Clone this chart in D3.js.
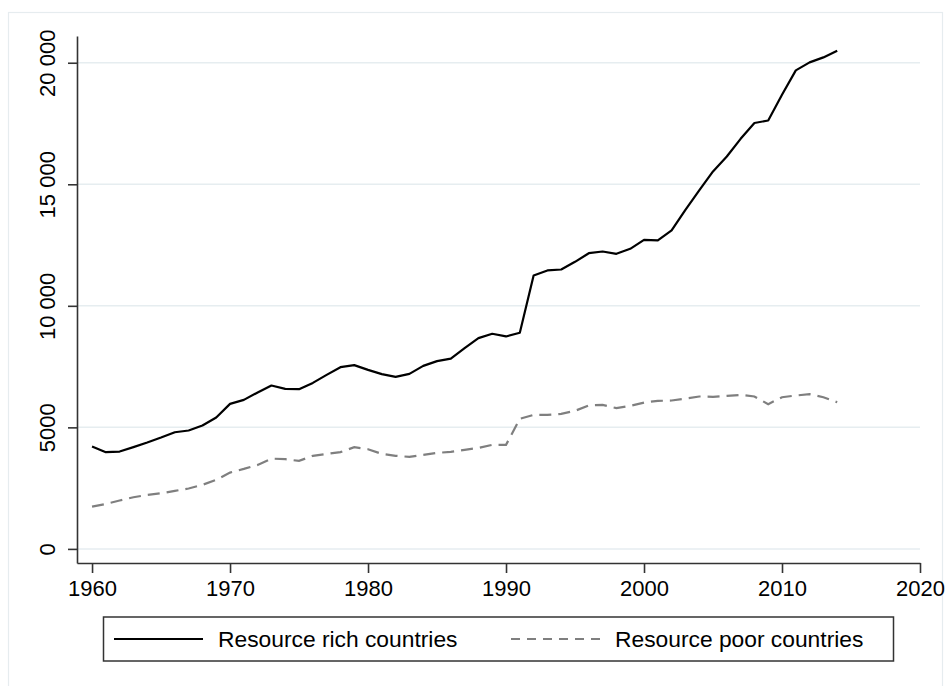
<!DOCTYPE html>
<html>
<head>
<meta charset="utf-8">
<script src="https://cdn.jsdelivr.net/npm/d3@7"></script>
<style>
  body { margin: 0; background: #fff; }
  text { font-family: "Liberation Sans", Arial, Helvetica, sans-serif; fill: #000; }
</style>
</head>
<body>
<script>
// Chart data
var years = [1960, 1961, 1962, 1963, 1964, 1965, 1966, 1967, 1968, 1969,
             1970, 1971, 1972, 1973, 1974, 1975, 1976, 1977, 1978, 1979,
             1980, 1981, 1982, 1983, 1984, 1985, 1986, 1987, 1988, 1989,
             1990, 1991, 1992, 1993, 1994, 1995, 1996, 1997, 1998, 1999,
             2000, 2001, 2002, 2003, 2004, 2005, 2006, 2007, 2008, 2009,
             2010, 2011, 2012, 2013, 2014];

var richValues = [4210, 3980, 4005, 4185, 4375, 4580, 4800, 4870, 5075, 5405,
                  5965, 6130, 6435, 6720, 6585, 6570, 6830, 7160, 7475, 7560,
                  7365, 7190, 7080, 7200, 7530, 7725, 7830, 8260, 8670, 8850,
                  8740, 8890, 11250, 11455, 11495, 11810, 12165, 12235, 12140, 12345,
                  12715, 12690, 13100, 13950, 14745, 15530, 16145, 16870, 17520, 17625,
                  18685, 19685, 20015, 20220, 20495];

var poorValues = [1740, 1850, 1990, 2125, 2220, 2290, 2385, 2485, 2635, 2840,
                  3140, 3290, 3455, 3715, 3690, 3620, 3830, 3910, 3980, 4185,
                  4100, 3910, 3830, 3785, 3870, 3950, 3990, 4075, 4155, 4280,
                  4280, 5350, 5515, 5515, 5555, 5680, 5900, 5925, 5790, 5885,
                  6020, 6090, 6105, 6185, 6270, 6255, 6295, 6335, 6270, 5955,
                  6240, 6310, 6365, 6240, 6035];

var xTicks = [1960, 1970, 1980, 1990, 2000, 2010, 2020];
var yTicks = [0, 5000, 10000, 15000, 20000];
var yTickLabels = ["0", "5000", "10 000", "15 000", "20 000"];
var seriesNames = ["Resource rich countries", "Resource poor countries"];

// SVG area
var svgWidth = 945;
var svgHeight = 686;

var svg = d3.select("body")
  .append("svg")
  .attr("width", svgWidth)
  .attr("height", svgHeight);

// outer graph frame (light border)
svg.append("rect")
  .attr("x", 8.5)
  .attr("y", 12.5)
  .attr("width", 934)
  .attr("height", 700)
  .style("fill", "#fff")
  .style("stroke", "#e6ecef")
  .style("stroke-width", 1.2);

// scales
var x = d3.scaleLinear()
  .domain([1958.91, 2020])
  .range([77, 920]);

var y = d3.scaleLinear()
  .domain([-580, 21100])
  .range([563, 36]);

// gridlines
svg.append("g")
  .selectAll("line")
  .data(yTicks)
  .enter()
  .append("line")
  .attr("x1", x(1958.91))
  .attr("x2", x(2020))
  .attr("y1", function(d) { return y(d); })
  .attr("y2", function(d) { return y(d); })
  .style("stroke", "#e6edf0")
  .style("stroke-width", 1.5);

// x axis
var xAxis = svg.append("g")
  .attr("transform", "translate(0," + y(-580) + ")")
  .call(d3.axisBottom(x)
    .tickValues(xTicks)
    .tickFormat(d3.format("d"))
    .tickSize(10)
    .tickSizeOuter(0));

xAxis.select(".domain").style("stroke", "#333").style("stroke-width", 1.6);
xAxis.selectAll(".tick line").style("stroke", "#333").style("stroke-width", 1.6);
xAxis.selectAll(".tick text")
  .attr("y", 17)
  .attr("dy", "0.71em")
  .style("font-size", "22px")
  .style("font-family", "'Liberation Sans', Arial, sans-serif")
  .style("fill", "#000");

// y axis
var yAxis = svg.append("g")
  .attr("transform", "translate(" + x(1958.91) + ",0)")
  .call(d3.axisLeft(y)
    .tickValues(yTicks)
    .tickFormat(function(d, i) { return yTickLabels[i]; })
    .tickSize(9)
    .tickSizeOuter(0));

yAxis.select(".domain").style("stroke", "#333").style("stroke-width", 1.6);
yAxis.selectAll(".tick line").style("stroke", "#333").style("stroke-width", 1.6);
yAxis.selectAll(".tick text")
  .attr("transform", "rotate(-90)")
  .attr("x", 0)
  .attr("y", -22)
  .attr("dy", 0)
  .style("text-anchor", "middle")
  .style("font-size", "22px")
  .style("font-family", "'Liberation Sans', Arial, sans-serif")
  .style("fill", "#000");

// lines
var line = d3.line()
  .x(function(d, i) { return x(years[i]); })
  .y(function(d) { return y(d); });

svg.append("path")
  .datum(poorValues)
  .attr("d", line)
  .style("fill", "none")
  .style("stroke", "#7f7f7f")
  .style("stroke-width", 2.2)
  .style("stroke-dasharray", "12,7");

svg.append("path")
  .datum(richValues)
  .attr("d", line)
  .style("fill", "none")
  .style("stroke", "#000")
  .style("stroke-width", 2.2)
  .style("stroke-linejoin", "round");

// legend
var legend = svg.append("g");

legend.append("rect")
  .attr("x", 103.5)
  .attr("y", 617)
  .attr("width", 790)
  .attr("height", 44)
  .style("fill", "#fff")
  .style("stroke", "#333")
  .style("stroke-width", 1.5);

legend.append("line")
  .attr("x1", 114).attr("x2", 203)
  .attr("y1", 639).attr("y2", 639)
  .style("stroke", "#000")
  .style("stroke-width", 2);

legend.append("text")
  .attr("x", 218)
  .attr("y", 639)
  .attr("dy", "0.36em")
  .style("font-size", "22.8px")
  .text(seriesNames[0]);

legend.append("line")
  .attr("x1", 511).attr("x2", 600)
  .attr("y1", 639).attr("y2", 639)
  .style("stroke", "#7f7f7f")
  .style("stroke-width", 2)
  .style("stroke-dasharray", "9,7");

legend.append("text")
  .attr("x", 615)
  .attr("y", 639)
  .attr("dy", "0.36em")
  .style("font-size", "22.8px")
  .text(seriesNames[1]);
</script>
</body>
</html>
